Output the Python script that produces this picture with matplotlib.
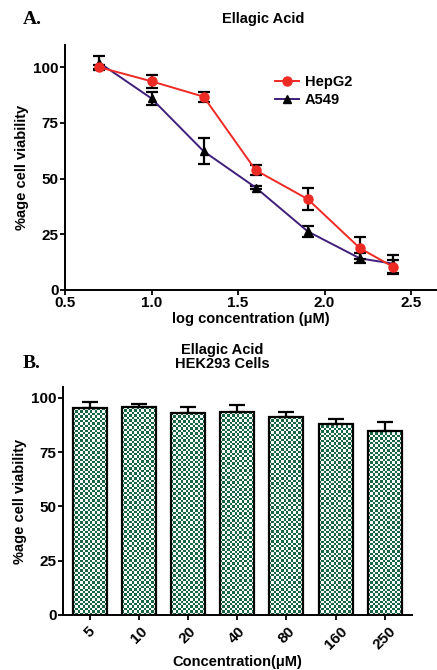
import numpy as np
import matplotlib
matplotlib.use('Agg')
import matplotlib.pyplot as plt
from matplotlib.lines import Line2D

plt.rcParams['font.family'] = ['Liberation Sans', 'DejaVu Sans']
plt.rcParams['font.weight'] = 'bold'

# Panel A: dose response, x is log10 of concentration (uM)
log_conc = [0.699, 1.0, 1.301, 1.602, 1.903, 2.204, 2.398]
hepg2 = [100.0, 93.7, 86.8, 53.8, 40.8, 18.8, 10.3]
hepg2_err = [1.0, 3.0, 2.2, 2.2, 4.8, 5.0, 3.0]
a549 = [102.0, 86.0, 62.3, 46.0, 26.3, 14.2, 11.8]
a549_err = [3.2, 3.0, 5.8, 0.8, 2.5, 2.3, 4.0]

# Panel B: HEK293 viability per concentration
conc_labels = ['5', '10', '20', '40', '80', '160', '250']
hek293 = [95.2, 95.6, 92.8, 93.4, 91.0, 88.1, 84.9]
hek293_err = [3.0, 1.4, 3.0, 3.2, 2.4, 2.1, 4.2]

RED = '#ee2a24'
PURPLE = '#3f1f7a'

fig = plt.figure(figsize=(4.37, 6.70), dpi=100)
W, H = 437, 670


def axes_px(left, top, right, bottom):
    return fig.add_axes([left / W, 1 - bottom / H, (right - left) / W, (bottom - top) / H])


def style_axes(ax):
    for s in ('top', 'right'):
        ax.spines[s].set_visible(False)
    for s in ('left', 'bottom'):
        ax.spines[s].set_linewidth(1.4)
    ax.tick_params(direction='out', length=3.5, width=1.3, labelsize=11, pad=1)
    for lab in ax.get_xticklabels() + ax.get_yticklabels():
        lab.set_fontweight('bold')


# ---- A ----
ax1 = axes_px(65, 45, 437, 290)
ax1.errorbar(log_conc, hepg2, yerr=hepg2_err, color=RED, marker='o', markersize=6.5,
             lw=1.4, ecolor='black', elinewidth=1.6, capsize=4, capthick=1.6, zorder=3)
ax1.errorbar(log_conc, a549, yerr=a549_err, color=PURPLE, marker='^', markersize=6,
             mfc='black', mec='black', lw=1.4, ecolor='black', elinewidth=1.6, capsize=4,
             capthick=1.6, zorder=2)
ax1.set_xlim(0.5, 2.65)
ax1.set_ylim(0, 110)
ax1.set_xticks([0.5, 1.0, 1.5, 2.0, 2.5])
ax1.set_yticks([0, 25, 50, 75, 100])
ax1.set_xlabel('log concentration (\u03bcM)', fontsize=10.5, fontweight='bold', labelpad=1)
ax1.set_ylabel('%age cell viability', fontsize=10.5, fontweight='bold', labelpad=3)
style_axes(ax1)

handles = [Line2D([], [], color=RED, marker='o', markersize=6.5, lw=1.4),
           Line2D([], [], color=PURPLE, marker='^', markersize=6, mfc='black', mec='black', lw=1.4)]
leg = ax1.legend(handles, ['HepG2', 'A549'], loc='upper left', bbox_to_anchor=(0.55, 0.9),
                 frameon=False, fontsize=10.5, handlelength=1.6, handletextpad=0.4,
                 borderaxespad=0, labelspacing=0.25)
for t in leg.get_texts():
    t.set_fontweight('bold')
fig.text(263 / W, 1 - 19 / H, 'Ellagic Acid', ha='center', va='center', fontsize=10.5, fontweight='bold')
fig.text(23 / W, 1 - 20 / H, 'A.', ha='left', va='center', fontsize=14, fontweight='bold',
         family='Liberation Serif')

# ---- B ----
ax2 = axes_px(63, 387, 412, 615)
x = np.arange(len(conc_labels))
ax2.set_xlim(-0.54, 6.55)
ax2.set_ylim(0, 105)
bars = ax2.bar(x, hek293, width=0.69, color='none', edgecolor='black', linewidth=1.6, zorder=3)
ax2.errorbar(x, hek293, yerr=[np.zeros(len(x)), hek293_err], fmt='none', ecolor='black',
             elinewidth=1.6, capsize=5.5, capthick=1.6, zorder=2)

# green checkerboard fill clipped to each bar
cell_px = 2.4
green = np.array([0.10, 0.40, 0.27])
for b in bars:
    x0, y0 = b.get_x(), b.get_y()
    x1, y1 = x0 + b.get_width(), y0 + b.get_height()
    p0 = ax2.transData.transform((x0, y0))
    p1 = ax2.transData.transform((x1, y1))
    nx = max(2, int(round((p1[0] - p0[0]) / cell_px)))
    ny = max(2, int(round((p1[1] - p0[1]) / cell_px)))
    checks = np.add.outer(np.arange(ny), np.arange(nx)) % 2
    rgb = np.ones((ny, nx, 3))
    rgb[checks == 0] = green
    im = ax2.imshow(rgb, extent=(x0, x1, y0, y1), aspect='auto', interpolation='nearest', zorder=1)
    im.set_clip_path(b)

ax2.set_xlim(-0.54, 6.55)
ax2.set_ylim(0, 105)
ax2.set_xticks(x)
ax2.set_xticklabels(conc_labels, rotation=45, ha='center', va='top')
ax2.set_yticks([0, 25, 50, 75, 100])
ax2.set_xlabel('Concentration(\u03bcM)', fontsize=10.5, fontweight='bold', labelpad=2)
ax2.set_ylabel('%age cell viability', fontsize=10.5, fontweight='bold', labelpad=3)
style_axes(ax2)
ax2.tick_params(axis='x', pad=3)
fig.text(222 / W, 1 - 357 / H, 'Ellagic Acid\nHEK293 Cells', ha='center', va='center',
         fontsize=10.5, fontweight='bold', linespacing=1.0)
fig.text(23 / W, 1 - 363 / H, 'B.', ha='left', va='center', fontsize=14, fontweight='bold',
         family='Liberation Serif')

fig.savefig('out.png', dpi=100)
